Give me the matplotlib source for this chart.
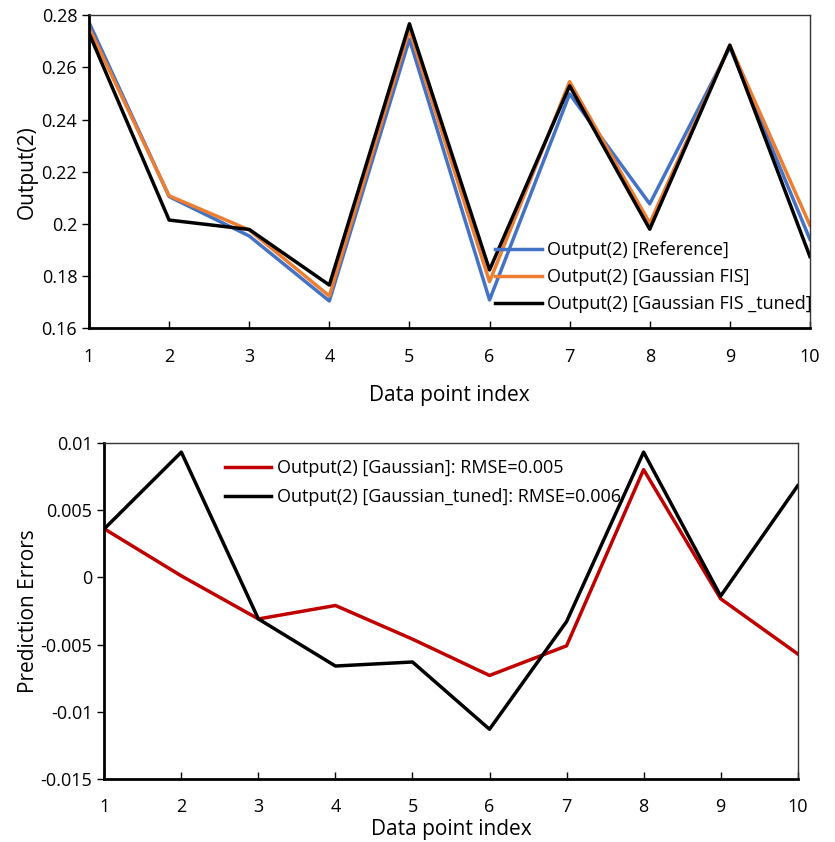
import matplotlib.pyplot as plt

plt.rcParams['font.family'] = ['Open Sans', 'DejaVu Sans']

idx = [1, 2, 3, 4, 5, 6, 7, 8, 9, 10]

# model outputs
out_ref = [0.2772, 0.2105, 0.1954, 0.1705, 0.2708, 0.1709, 0.2498, 0.2077, 0.2677, 0.1941]
out_gauss = [0.2752, 0.2108, 0.1977, 0.1724, 0.2744, 0.1779, 0.2545, 0.2003, 0.2685, 0.1995]
out_tuned = [0.2731, 0.2015, 0.1979, 0.1766, 0.2767, 0.1824, 0.2529, 0.1980, 0.2685, 0.1875]

# prediction errors
err_gauss = [0.0036, 0.0001, -0.0031, -0.0021, -0.0046, -0.0073, -0.0051, 0.0080, -0.0016, -0.0057]
err_tuned = [0.0036, 0.0093, -0.0031, -0.0066, -0.0063, -0.0113, -0.0033, 0.0093, -0.0014, 0.0068]

fig = plt.figure(figsize=(8.35, 8.42), dpi=100)
ax1 = fig.add_axes([0.1066, 0.610, 0.8634, 0.372])
ax2 = fig.add_axes([0.1249, 0.0748, 0.8304, 0.3994])


def style_axes(ax):
    ax.set_xlim(1, 10)
    ax.set_xticks(idx)
    ax.tick_params(axis='x', direction='in', length=5, width=1, labelsize=13, pad=14)
    ax.tick_params(axis='y', direction='out', length=5, width=1, labelsize=13)
    for s in ['left', 'bottom']:
        ax.spines[s].set_linewidth(2)
    for s in ['top', 'right']:
        ax.spines[s].set_linewidth(1)
        ax.spines[s].set_color('#333333')


# top: outputs
ax1.plot(idx, out_ref, color='#4472C4', lw=2.5, label='Output(2) [Reference]')
ax1.plot(idx, out_gauss, color='#ED7D31', lw=2.5, label='Output(2) [Gaussian FIS]')
ax1.plot(idx, out_tuned, color='black', lw=2.5, label='Output(2) [Gaussian FIS _tuned]')
style_axes(ax1)
ax1.set_ylim(0.16, 0.28)
ax1.set_yticks([0.16, 0.18, 0.2, 0.22, 0.24, 0.26, 0.28])
ax1.set_yticklabels(['0.16', '0.18', '0.2', '0.22', '0.24', '0.26', '0.28'])
ax1.set_ylabel('Output(2)', fontsize=15, labelpad=3)
ax1.set_xlabel('Data point index', fontsize=15, labelpad=14)
ax1.legend(loc='lower right', frameon=False, fontsize=13, handlelength=2.6,
           handletextpad=0.3, labelspacing=0.5, borderaxespad=0.1,
           bbox_to_anchor=(1.015, 0.02))

# bottom: errors
ax2.plot(idx, err_gauss, color='#C00000', lw=2.5, label='Output(2) [Gaussian]: RMSE=0.005')
ax2.plot(idx, err_tuned, color='black', lw=2.5, label='Output(2) [Gaussian_tuned]: RMSE=0.006')
style_axes(ax2)
ax2.set_ylim(-0.015, 0.01)
ax2.set_yticks([-0.015, -0.01, -0.005, 0, 0.005, 0.01])
ax2.set_yticklabels(['-0.015', '-0.01', '-0.005', '0', '0.005', '0.01'])
ax2.set_ylabel('Prediction Errors', fontsize=15, labelpad=1)
ax2.set_xlabel('Data point index', fontsize=15, labelpad=2)
ax2.legend(loc='upper left', frameon=False, fontsize=13, handlelength=2.6,
           handletextpad=0.3, labelspacing=0.62, bbox_to_anchor=(0.15, 1.0))

fig.savefig('out.png', dpi=100)
